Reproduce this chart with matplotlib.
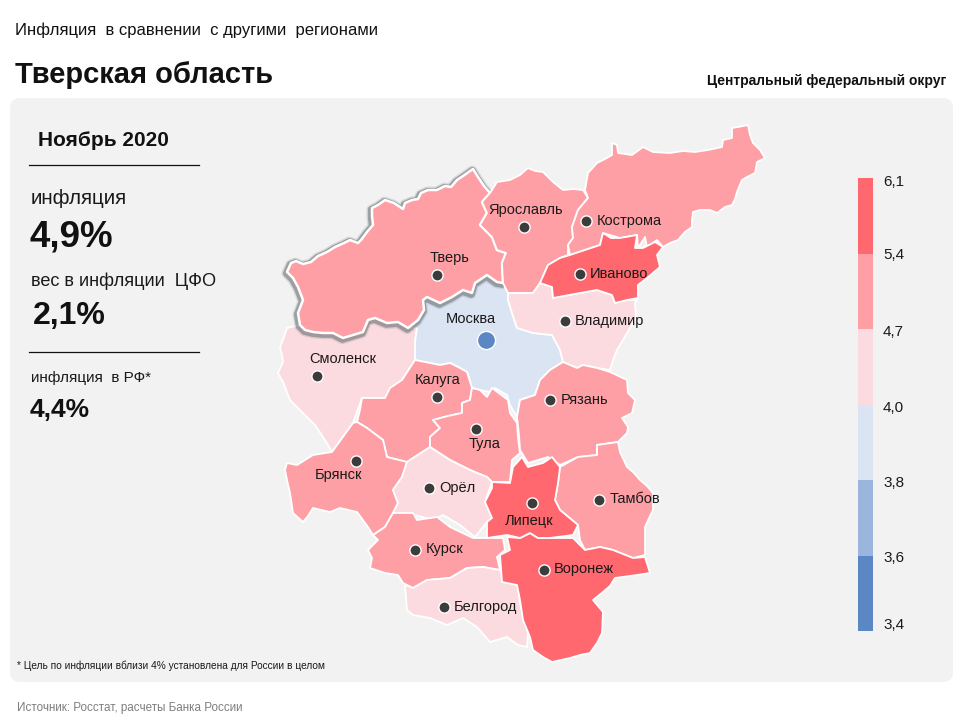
import matplotlib
matplotlib.use("Agg")
import matplotlib.pyplot as plt
import matplotlib.patheffects as pe
from matplotlib.colors import BoundaryNorm, ListedColormap
from matplotlib.patches import FancyBboxPatch, Polygon

plt.rcParams["font.family"] = ["Liberation Sans", "DejaVu Sans"]

TEXT = "#1a1a1a"
PANEL = "#f2f2f2"

# legend bins
bin_edges = [3.4, 3.6, 3.8, 4.0, 4.7, 5.4, 6.1]
bin_colors = ["#5b88c4", "#9ab6dc", "#dae4f3", "#fbdbdf", "#fe9fa5", "#ff686e"]
bin_labels = ["3,4", "3,6", "3,8", "4,0", "4,7", "5,4", "6,1"]
bin_label_y = [625, 558, 483, 408, 332, 255, 182]

# region outlines (pixels)
tver = [(287,272),(291,263),(296,261),(303,264),(311,262),(318,256),(327,252),(335,247),(344,243),(350,240),(358,243),(361,240),(367,232),(373,225),(372,216),(372,208),(378,205),(385,200),(394,203),(403,209),(405,203),(412,200),(418,199),(421,193),(428,190),(437,190),(445,186),(451,187),(457,180),(463,176),(470,171),(473,169),(478,177),(484,186),(490,193),(482,202),(487,213),(480,225),(492,237),(497,250),(506,253),(502,263),(503,283),(497,282),(487,275),(475,283),(472,293),(463,290),(452,297),(440,303),(427,297),(423,300),(424,310),(418,320),(408,328),(398,322),(387,323),(375,318),(368,320),(363,332),(353,335),(343,338),(333,333),(323,333),(313,332),(305,330),(300,325),(298,313),(303,300),(298,287),(293,278)]
yaroslavl = [(490,193),(497,182),(510,180),(520,175),(528,168),(535,171),(543,172),(553,182),(563,190),(573,189),(583,190),(588,198),(578,210),(572,227),(573,238),(568,245),(568,255),(560,258),(548,265),(540,283),(533,293),(517,293),(508,293),(503,283),(502,263),(506,253),(497,250),(492,237),(480,225),(487,213),(482,202)]
kostroma = [(585,190),(588,173),(597,163),(605,159),(612,155),(612,143),(617,145),(618,153),(632,155),(643,147),(653,152),(670,153),(683,151),(695,152),(708,150),(722,147),(723,140),(732,138),(732,128),(738,127),(748,125),(750,135),(753,143),(760,150),(765,158),(757,162),(756,168),(755,173),(747,177),(742,180),(739,187),(737,192),(735,199),(732,205),(725,207),(717,213),(710,210),(700,210),(693,212),(692,220),(692,227),(685,232),(678,240),(670,243),(663,247),(657,240),(647,247),(645,237),(638,248),(637,235),(620,238),(603,233),(600,245),(570,255),(568,245),(573,238),(572,227),(578,210),(588,198)]
ivanovo = [(540,283),(548,265),(560,258),(570,255),(585,250),(600,245),(603,233),(611,238),(620,238),(637,235),(635,248),(643,248),(655,242),(663,247),(657,255),(660,267),(647,278),(638,285),(638,298),(627,300),(615,303),(612,295),(597,290),(580,293),(553,298),(552,287)]
vladimir = [(508,293),(533,293),(540,283),(552,287),(553,298),(580,293),(597,290),(612,295),(615,303),(627,300),(637,300),(635,303),(636,318),(627,333),(617,350),(613,360),(610,370),(597,368),(583,365),(577,368),(563,362),(560,350),(552,335),(533,333),(517,328),(512,313),(508,300)]
moscow = [(423,300),(427,297),(440,303),(452,297),(463,290),(472,293),(475,283),(487,275),(497,282),(503,283),(508,293),(508,300),(512,313),(517,328),(533,333),(552,335),(560,350),(563,362),(550,370),(540,380),(535,395),(520,400),(517,417),(510,405),(507,395),(495,388),(490,392),(480,390),(472,388),(467,372),(460,368),(450,363),(440,365),(425,362),(415,360),(415,342),(417,328),(408,328),(418,320)]
smolensk = [(287,328),(284,337),(280,347),(282,355),(283,362),(278,373),(283,382),(290,400),(298,408),(307,417),(315,425),(323,437),(328,445),(332,452),(353,423),(362,398),(385,398),(402,380),(415,360),(415,342),(417,328),(408,328),(398,322),(387,323),(375,318),(368,320),(363,332),(343,338),(333,333),(313,332),(300,325)]
kaluga = [(362,398),(385,398),(390,388),(402,380),(415,360),(425,362),(440,365),(450,363),(460,368),(467,372),(472,388),(470,400),(462,403),(462,413),(448,416),(433,420),(440,428),(430,437),(430,447),(407,462),(387,457),(383,440),(367,428),(357,422),(360,410)]
tula = [(433,420),(448,416),(462,413),(462,403),(470,400),(472,388),(480,390),(487,397),(492,388),(508,400),(510,413),(517,423),(518,438),(520,453),(512,460),(510,482),(492,482),(487,477),(470,470),(450,460),(430,447),(430,437),(440,428)]
ryazan = [(517,417),(520,400),(535,395),(540,380),(550,370),(563,362),(577,368),(583,365),(597,368),(610,372),(627,380),(628,393),(635,400),(632,413),(622,418),(628,427),(627,433),(618,442),(597,445),(597,455),(578,457),(560,465),(548,457),(528,463),(520,450),(519,435)]
tambov = [(560,467),(578,457),(597,455),(597,445),(618,442),(620,452),(627,467),(634,473),(640,480),(647,486),(653,493),(653,510),(649,518),(645,527),(645,555),(633,558),(613,550),(600,547),(585,550),(580,540),(578,525),(560,510),(555,500),(558,483)]
lipetsk = [(492,482),(510,483),(513,467),(522,457),(528,467),(543,463),(552,457),(560,467),(558,483),(555,500),(560,510),(578,525),(573,535),(550,538),(538,538),(530,533),(520,538),(507,535),(487,538),(487,522),(492,518),(485,502),(492,488)]
voronezh = [(507,537),(520,538),(530,533),(538,538),(573,538),(585,550),(600,547),(613,550),(633,558),(645,557),(650,573),(637,575),(615,578),(610,586),(603,592),(593,600),(603,612),(602,633),(597,643),(590,653),(580,655),(570,658),(552,662),(543,657),(533,650),(530,637),(523,620),(520,600),(517,585),(502,582),(500,555),(510,550)]
bryansk = [(332,452),(353,423),(357,422),(367,428),(383,440),(387,457),(407,462),(402,477),(393,490),(398,503),(393,513),(385,527),(373,535),(368,527),(357,512),(340,508),(330,512),(313,508),(308,516),(303,522),(293,513),(290,493),(287,480),(285,470),(287,463),(297,465),(313,455)]
orel = [(407,462),(430,447),(450,460),(470,470),(487,477),(492,482),(485,502),(492,518),(487,522),(475,537),(460,525),(443,515),(433,520),(415,515),(393,513),(398,503),(393,490),(402,477)]
kursk = [(373,535),(385,527),(393,513),(413,513),(417,520),(437,517),(450,527),(473,538),(483,538),(503,538),(505,550),(497,557),(500,570),(483,567),(467,568),(450,578),(427,580),(413,588),(403,583),(398,575),(385,573),(370,568),(372,558),(368,550),(378,540)]
belgorod = [(405,585),(413,588),(427,580),(450,578),(467,568),(483,567),(500,570),(507,582),(518,585),(520,603),(528,633),(527,647),(518,645),(507,637),(490,642),(477,627),(463,618),(447,625),(430,618),(413,615),(407,610)]

# name, outline, inflation (only the bin can be read), dot, label centre
regions = [
    ("Смоленск", smolensk, 4.4, (317, 376), (343, 359)),
    ("Москва", moscow, 3.9, (486, 340), (471, 319)),
    ("Тверь", tver, 4.9, (437, 275), (450, 258)),
    ("Ярославль", yaroslavl, 5.0, (524, 227), (526, 210)),
    ("Кострома", kostroma, 4.9, (586, 221), (629, 221)),
    ("Владимир", vladimir, 4.5, (565, 321), (609, 321)),
    ("Иваново", ivanovo, 5.6, (580, 274), (619, 274)),
    ("Калуга", kaluga, 5.0, (437, 397), (438, 380)),
    ("Тула", tula, 5.0, (476, 429), (485, 444)),
    ("Рязань", ryazan, 5.0, (550, 400), (585, 400)),
    ("Брянск", bryansk, 5.1, (356, 461), (339, 475)),
    ("Орёл", orel, 4.6, (429, 488), (457, 488)),
    ("Тамбов", tambov, 5.0, (599, 500), (635, 499)),
    ("Курск", kursk, 5.0, (415, 550), (445, 549)),
    ("Белгород", belgorod, 4.5, (444, 607), (485, 607)),
    ("Воронеж", voronezh, 5.6, (544, 570), (584, 569)),
    ("Липецк", lipetsk, 5.7, (532, 503), (529, 521)),
]

cmap = ListedColormap(bin_colors)
norm = BoundaryNorm(bin_edges, cmap.N)

fig = plt.figure(figsize=(9.6, 7.2), dpi=100, facecolor="white")
ax = fig.add_axes([0, 0, 1, 1])
ax.set_xlim(0, 960)
ax.set_ylim(720, 0)
ax.axis("off")

ax.add_patch(FancyBboxPatch((10, 98), 943, 584, boxstyle="round,pad=0,rounding_size=10",
                            fc=PANEL, ec="none", lw=0, zorder=0))

for name, outline, value, dot, label in regions:
    poly = Polygon(outline, closed=True, fc=cmap(norm(value)), ec="white", lw=1.3, joinstyle="round", zorder=2)
    if name == "Тверь":
        # selected region gets a grey glow, heavier to the lower left
        poly.set_linewidth(1.8)
        poly.set_path_effects([
            pe.Stroke(linewidth=7, foreground="#8d9194", alpha=0.25, offset=(-0.5, -1)),
            pe.Stroke(linewidth=5, foreground="#6c7276", alpha=0.55, offset=(-0.5, -1)),
            pe.Normal(),
        ])
    ax.add_patch(poly)

for name, outline, value, dot, label in regions:
    if name == "Москва":
        ax.scatter(*dot, s=170, color="#5b88c4", edgecolors="white", linewidths=1.0, zorder=4)
    else:
        ax.scatter(*dot, s=65, color="#3c3c3c", edgecolors="white", linewidths=1.0, zorder=4)
    ax.text(*label, name, fontsize=10.5, color=TEXT, ha="center", va="center", zorder=5)

# legend
for i, c in enumerate(bin_colors):
    top = 631 - (i + 1) * (631 - 178) / 6
    ax.bar(865.5, (631 - 178) / 6, width=15, bottom=top, color=c, linewidth=0, zorder=3)
for lab, y in zip(bin_labels, bin_label_y):
    ax.text(883, y, lab, fontsize=11, color=TEXT, va="center", ha="left")

# headers
ax.text(15, 30, "Инфляция  в сравнении  с другими  регионами", fontsize=12, color="#111111", va="center")
ax.text(15, 75, "Тверская область", fontsize=21, fontweight="bold", color="#111111", va="center")
ax.text(946, 81, "Центральный федеральный округ", fontsize=10, fontweight="bold", color="#111111", va="center", ha="right")

# left column
ax.text(38, 140, "Ноябрь 2020", fontsize=15, fontweight="bold", color="#111111", va="center")
ax.plot([29, 199], [165, 165], color="#111111", lw=0.9)
ax.text(31, 198, "инфляция", fontsize=14.8, color=TEXT, va="center")
ax.text(30, 237, "4,9%", fontsize=26.5, fontweight="bold", color="#111111", va="center")
ax.text(31, 281, "вес в инфляции  ЦФО", fontsize=13.1, color=TEXT, va="center")
ax.text(33, 316, "2,1%", fontsize=23, fontweight="bold", color="#111111", va="center")
ax.plot([29, 199], [352, 352], color="#111111", lw=0.9)
ax.text(31, 378, "инфляция  в РФ*", fontsize=11, color=TEXT, va="center")
ax.text(30, 410, "4,4%", fontsize=19, fontweight="bold", color="#111111", va="center")

# footnotes
ax.text(17, 666, "* Цель по инфляции вблизи 4% установлена для России в целом", fontsize=7.3, color=TEXT, va="center")
ax.text(17, 708, "Источник: Росстат, расчеты Банка России", fontsize=8.35, color="#7f7f7f", va="center")

fig.savefig("out.png", dpi=100)
